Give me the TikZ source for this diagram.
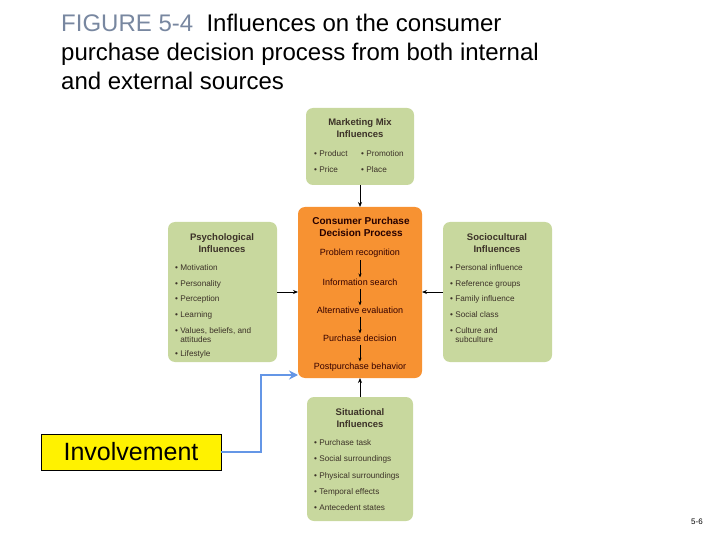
\documentclass[tikz,border=0pt]{standalone}
\usepackage{fontspec}
\setmainfont{Liberation Sans}
\usetikzlibrary{arrows.meta}
\definecolor{gbox}{RGB}{200,216,158}
\definecolor{obox}{RGB}{247,146,50}
\definecolor{tdark}{RGB}{60,50,40}
\definecolor{figc}{RGB}{120,135,160}
\definecolor{blu}{RGB}{100,150,230}
\tikzset{
 gb/.style={fill=gbox,rounded corners=7pt,draw=none},
 ob/.style={fill=obox,rounded corners=7pt,draw=none},
 sm/.style={font=\fontsize{8.2}{9.5}\selectfont,text=tdark,anchor=west,inner sep=0},
 hd/.style={font=\fontsize{9.5}{12}\selectfont\bfseries,text=tdark,align=center,inner sep=0},
 st/.style={font=\fontsize{9}{10}\selectfont,text=black!80!red,inner sep=0},
 ar/.style={-{Stealth[length=5pt,width=4pt]},black,thick},
 sa/.style={-{Stealth[length=4pt,width=3pt]},black,semithick}
}
\begin{document}
\begin{tikzpicture}[x=1pt,y=-1pt]
\useasboundingbox (0,0) rectangle (720,540);
\node[anchor=north west,align=left,inner sep=0,font=\fontsize{24}{29}\selectfont] at (61,14) {\textcolor{figc}{FIGURE 5-4}\ \ Influences on the consumer\\purchase decision process from both internal\\and external sources};
% boxes
\path[gb] (306,108) rectangle (414,185); \coordinate (mm) at (360,185);
\path[ob] (298,207) rectangle (422,378);
\path[gb] (168,222) rectangle (277,362);
\path[gb] (443,222) rectangle (552,362);
\path[gb] (307,397) rectangle (413,521);
\node[hd] (mmh) at (360,128) {Marketing Mix\\Influences};
\node[sm] at (314,154) {• Product}; \node[sm] at (361,154) {• Promotion};
\node[sm] at (314,170) {• Price}; \node[sm] at (361,170) {• Place};
\node[hd] (ph) at (222,243) {Psychological\\Influences};
\foreach \t/\y in {Motivation/268,Personality/284,Perception/299,Learning/315}
  \node[sm] at (175,\y) {• \t};
\node[sm,align=left] at (175,335) {• Values, beliefs, and\\\phantom{• }attitudes};
\node[sm] at (175,354) {• Lifestyle};
\node[hd] at (497,243) {Sociocultural\\Influences};
\foreach \t/\y in {Personal influence/268,Reference groups/284,Family influence/299,Social class/315}
  \node[sm] at (450,\y) {• \t};
\node[sm,align=left] at (450,335) {• Culture and\\\phantom{• }subculture};
\node[hd] at (360,418) {Situational\\Influences};
\foreach \t/\y in {Purchase task/443,Social surroundings/459,Physical surroundings/476,Temporal effects/492,Antecedent states/508}
  \node[sm] at (314,\y) {• \t};
\node[hd,text=black!85!red,font=\fontsize{10}{12.5}\selectfont\bfseries] at (361,227) {Consumer Purchase\\Decision Process};
\node[st] (s1) at (360,253) {Problem recognition};
\node[st] (s2) at (360,282) {Information search};
\node[st] (s3) at (360,310) {Alternative evaluation};
\node[st] (s4) at (360,338) {Purchase decision};
\node[st] (s5) at (360,367) {Postpurchase behavior};
\foreach \a/\b in {s1/s2,s2/s3,s3/s4,s4/s5}
  \draw[sa] ([yshift=-3pt]\a.south) -- ([yshift=1pt]\b.north);
% main arrows
\coordinate (o1) at (360,207); \draw[ar] (mm) -- (o1);
\coordinate (p1) at (277,292); \coordinate (p2) at (298,292); \draw[ar] (p1) -- (p2);
\coordinate (q1) at (443,292); \coordinate (q2) at (422,292); \draw[ar] (q1) -- (q2);
\coordinate (r1) at (360,397); \coordinate (r2) at (360,378); \draw[ar] (r1) -- (r2);
% involvement
\node[draw=black,fill=yellow,minimum width=180pt,minimum height=36pt,inner sep=0,font=\fontsize{25}{25}\selectfont] (inv) at (131,452) {Involvement};
\coordinate (ie) at (298,375);
\draw[blu,line width=2.5pt,-{Stealth[length=9pt,width=9pt]}] (inv.east) -| (261,375) -- (ie);
\node[font=\fontsize{8}{8}\selectfont] at (697,522) {5-6};
\end{tikzpicture}
\end{document}
